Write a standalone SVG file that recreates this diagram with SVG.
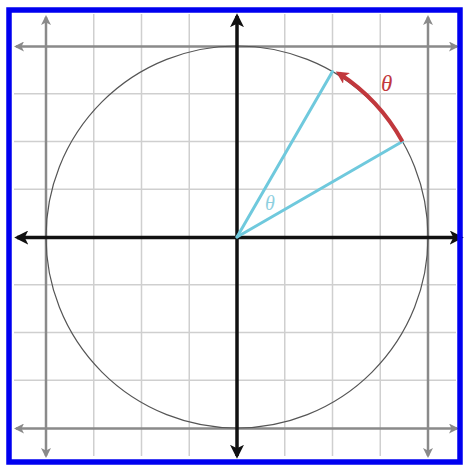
<svg xmlns="http://www.w3.org/2000/svg" width="466" height="465" viewBox="0 0 466 465">
<defs>
<style>
.grid{stroke:#cfcfcf;stroke-width:1.5;fill:none}
.gax{stroke:#8a8a8a;stroke-width:2.5;fill:none}
.ax{stroke:#111;stroke-width:3.5;fill:none}
.ray{stroke:#6fc9dd;stroke-width:3;fill:none;stroke-linecap:round}
.lbl{font-family:"Liberation Serif",serif;font-style:italic}
</style>
<marker id="ga" viewBox="0 0 10 10" refX="8" refY="5" markerWidth="4" markerHeight="4" orient="auto-start-reverse"><path d="M0,0 L10,5 L0,10 L2.5,5 Z" fill="#8a8a8a"/></marker>
<marker id="ba" viewBox="0 0 10 10" refX="8" refY="5" markerWidth="4" markerHeight="4" orient="auto-start-reverse"><path d="M0,0 L10,5 L0,10 L2.5,5 Z" fill="#111"/></marker>
<marker id="ra" viewBox="0 0 10 10" refX="7" refY="5" markerWidth="3.2" markerHeight="3.2" orient="auto"><path d="M0,0 L10,5 L0,10 L2.5,5 Z" fill="#c1383d"/></marker>
</defs>
<rect x="0" y="0" width="466" height="465" fill="#fff"/>
<g id="grid">
<path class="grid" d="M93.75,14V456 M141.5,14V456 M189.25,14V456 M284.75,14V456 M332.5,14V456 M380.25,14V456 M14,93.75H456 M14,141.5H456 M14,189.25H456 M14,284.75H456 M14,332.5H456 M14,380.25H456"/>
</g>
<g id="connectors">
<line class="gax" x1="46" y1="17" x2="46" y2="456" marker-start="url(#ga)" marker-end="url(#ga)"/>
<line class="gax" x1="428" y1="17" x2="428" y2="456" marker-start="url(#ga)" marker-end="url(#ga)"/>
<line class="gax" x1="16" y1="46.5" x2="457" y2="46.5" marker-start="url(#ga)" marker-end="url(#ga)"/>
<line class="gax" x1="16" y1="428.5" x2="457" y2="428.5" marker-start="url(#ga)" marker-end="url(#ga)"/>
</g>
<g id="circle">
<circle cx="237" cy="237" r="191" fill="none" stroke="#555" stroke-width="1.2"/>
</g>
<g id="axes">
<line class="ax" x1="17" y1="237.5" x2="461" y2="237.5" marker-start="url(#ba)" marker-end="url(#ba)"/>
<line class="ax" x1="237" y1="16" x2="237" y2="456" marker-start="url(#ba)" marker-end="url(#ba)"/>
</g>
<g id="rays">
<line class="ray" x1="237" y1="237" x2="402.4" y2="141.5"/>
<line class="ray" x1="237" y1="237" x2="332.5" y2="71.6"/>
</g>
<g id="arc">
<path d="M402.4,141.5 A191,191 0 0 0 339,73.5" fill="none" stroke="#c1383d" stroke-width="4" marker-end="url(#ra)"/>
</g>
<g id="labels">
<text class="lbl" x="381" y="91" font-size="23" fill="#c1383d">θ</text>
<text class="lbl" x="265" y="210" font-size="20" fill="#8fd0df">θ</text>
</g>
<rect x="9" y="10" width="451" height="452" fill="none" stroke="#0000f0" stroke-width="5.5"/>
</svg>
